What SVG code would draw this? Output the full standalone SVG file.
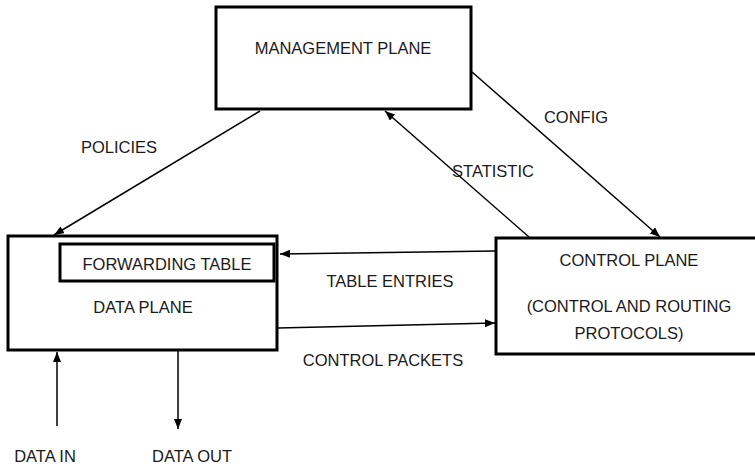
<svg xmlns="http://www.w3.org/2000/svg" width="755" height="468" viewBox="0 0 755 468">
  <style>
    .box { fill: #ffffff; stroke: #000000; stroke-width: 3; }
    .lbl { font-family: "Liberation Sans", Arial, sans-serif; font-size: 16.5px; fill: #1a1a1a; text-anchor: middle; }
    .wire { stroke: #000000; stroke-width: 1.5; fill: none; marker-end: url(#head); }
  </style>
  <defs>
    <marker id="head" markerUnits="userSpaceOnUse" markerWidth="12" markerHeight="10" refX="10" refY="4" orient="auto">
      <path d="M0,0 L10,4 L0,8 Z" fill="#000000"/>
    </marker>
  </defs>

  <!-- planes -->
  <g id="management-plane">
    <rect class="box" x="216" y="7" width="255" height="102"/>
    <text class="lbl" x="343" y="54">MANAGEMENT PLANE</text>
  </g>

  <g id="data-plane">
    <rect class="box" x="8" y="236" width="269" height="114"/>
    <text class="lbl" x="143" y="313">DATA PLANE</text>
  </g>

  <g id="forwarding-table">
    <rect class="box" x="60" y="244" width="214" height="37"/>
    <text class="lbl" x="167" y="270">FORWARDING TABLE</text>
  </g>

  <g id="control-plane">
    <rect class="box" x="496" y="238" width="270" height="116"/>
    <text class="lbl" x="629" y="266">CONTROL PLANE</text>
    <text class="lbl" x="629" y="312">(CONTROL AND ROUTING</text>
    <text class="lbl" x="629" y="339">PROTOCOLS)</text>
  </g>

  <!-- connectors -->
  <g id="connectors">
    <line class="wire" x1="260" y1="111" x2="54" y2="235"/>
    <line class="wire" x1="472" y1="72" x2="660" y2="237"/>
    <line class="wire" x1="529" y1="237" x2="385" y2="111"/>
    <line class="wire" x1="495" y1="251" x2="280" y2="254"/>
    <line class="wire" x1="278" y1="328" x2="495" y2="323"/>
    <line class="wire" x1="57" y1="426" x2="57" y2="352"/>
    <line class="wire" x1="178" y1="351" x2="178" y2="429"/>
  </g>

  <!-- connector labels -->
  <g id="connector-labels">
    <text class="lbl" x="119" y="153">POLICIES</text>
    <text class="lbl" x="576" y="123">CONFIG</text>
    <text class="lbl" x="493" y="177">STATISTIC</text>
    <text class="lbl" x="390" y="287">TABLE ENTRIES</text>
    <text class="lbl" x="383" y="366">CONTROL PACKETS</text>
    <text class="lbl" x="45" y="462">DATA IN</text>
    <text class="lbl" x="192" y="462">DATA OUT</text>
  </g>
</svg>
